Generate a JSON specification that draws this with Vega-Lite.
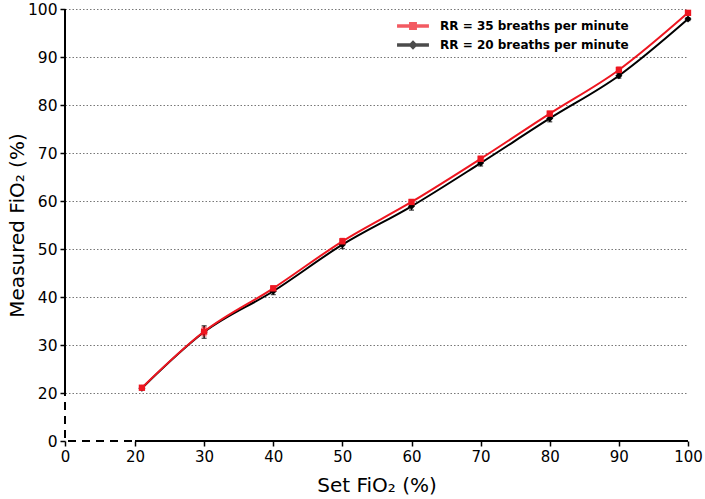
{
  "$schema": "https://vega.github.io/schema/vega-lite/v6.json",
  "width": 623,
  "height": 432,
  "autosize": {"type": "none"},
  "padding": {"left": 65, "top": 9, "right": 17, "bottom": 58},
  "data": {
    "values": [
      {"series": "RR = 20 breaths per minute", "set": 21, "measured": 21.0, "lo": 20.7, "hi": 21.3},
      {"series": "RR = 20 breaths per minute", "set": 30, "measured": 32.7, "lo": 31.4, "hi": 34.0},
      {"series": "RR = 20 breaths per minute", "set": 40, "measured": 41.2, "lo": 40.5, "hi": 41.9},
      {"series": "RR = 20 breaths per minute", "set": 50, "measured": 50.9, "lo": 50.1, "hi": 51.7},
      {"series": "RR = 20 breaths per minute", "set": 60, "measured": 58.9, "lo": 58.1, "hi": 59.7},
      {"series": "RR = 20 breaths per minute", "set": 70, "measured": 67.9, "lo": 67.3, "hi": 68.5},
      {"series": "RR = 20 breaths per minute", "set": 80, "measured": 77.2, "lo": 76.5, "hi": 77.9},
      {"series": "RR = 20 breaths per minute", "set": 90, "measured": 86.1, "lo": 85.6, "hi": 86.6},
      {"series": "RR = 20 breaths per minute", "set": 100, "measured": 97.9, "lo": 97.6, "hi": 98.2},
      {"series": "RR = 35 breaths per minute", "set": 21, "measured": 21.1, "lo": 20.8, "hi": 21.4},
      {"series": "RR = 35 breaths per minute", "set": 30, "measured": 32.8, "lo": 31.9, "hi": 33.7},
      {"series": "RR = 35 breaths per minute", "set": 40, "measured": 41.8, "lo": 41.3, "hi": 42.3},
      {"series": "RR = 35 breaths per minute", "set": 50, "measured": 51.6, "lo": 51.0, "hi": 52.2},
      {"series": "RR = 35 breaths per minute", "set": 60, "measured": 59.8, "lo": 59.3, "hi": 60.3},
      {"series": "RR = 35 breaths per minute", "set": 70, "measured": 68.8, "lo": 68.3, "hi": 69.3},
      {"series": "RR = 35 breaths per minute", "set": 80, "measured": 78.2, "lo": 77.7, "hi": 78.7},
      {"series": "RR = 35 breaths per minute", "set": 90, "measured": 87.3, "lo": 86.7, "hi": 87.9},
      {"series": "RR = 35 breaths per minute", "set": 100, "measured": 99.2, "lo": 98.8, "hi": 99.6}
    ]
  },
  "layer": [
    {
      "mark": {"type": "point", "filled": true, "opacity": 1, "size": 0},
      "encoding": {
        "x": {"field": "set", "type": "quantitative", "title": "Set FiO₂ (%)"},
        "y": {"field": "measured", "type": "quantitative", "title": "Measured FiO₂ (%)"},
        "color": {
          "field": "series",
          "type": "nominal",
          "scale": {
            "domain": ["RR = 35 breaths per minute", "RR = 20 breaths per minute"],
            "range": ["#ee1620", "#000000"]
          },
          "legend": {
            "title": null,
            "orient": "none",
            "legendX": 339,
            "legendY": 8,
            "padding": 0,
            "labelFont": "DejaVu Sans",
            "labelFontWeight": "bold",
            "labelFontSize": 12,
            "labelColor": "black",
            "labelLimit": 400,
            "labelOffset": 18,
            "symbolSize": 256,
            "symbolOpacity": 1,
            "rowPadding": 3
          }
        },
        "shape": {
          "field": "series",
          "type": "nominal",
          "scale": {
            "domain": ["RR = 35 breaths per minute", "RR = 20 breaths per minute"],
            "range": [
              "M-1.9,-0.12H1.9V0.12H-1.9ZM-0.4,-0.4H0.4V0.4H-0.4Z",
              "M-1.9,-0.12H1.9V0.12H-1.9ZM0,-0.45L0.45,0L0,0.45L-0.45,0Z"
            ]
          },
          "legend": {"title": null}
        }
      }
    },
    {
      "mark": {"type": "line", "strokeWidth": 2, "interpolate": "monotone"},
      "encoding": {
        "x": {
          "field": "set",
          "type": "quantitative",
          "title": "Set FiO₂ (%)",
          "scale": {"domain": [0, 20, 100], "range": [0, 70, 623], "nice": false, "zero": false},
          "axis": {
            "values": [0, 20, 30, 40, 50, 60, 70, 80, 90, 100],
            "domain": false,
            "grid": false,
            "tickSize": 5,
            "tickWidth": 1.5,
            "tickColor": "black",
            "labelFontSize": 15,
            "labelColor": "black",
            "labelPadding": 3,
            "labelFlush": false,
            "titleFontSize": 20,
            "titleFontWeight": "normal",
            "titleColor": "black",
            "titlePadding": 11
          }
        },
        "y": {
          "field": "measured",
          "type": "quantitative",
          "title": "Measured FiO₂ (%)",
          "scale": {"domain": [0, 20, 100], "range": [432, 384, 0], "nice": false, "zero": false},
          "axis": {
            "values": [0, 20, 30, 40, 50, 60, 70, 80, 90, 100],
            "domain": false,
            "grid": true,
            "gridDash": [1.5, 2],
            "gridColor": "#777777",
            "gridWidth": 1,
            "gridOpacity": {"condition": {"test": "datum.value === 0", "value": 0}, "value": 1},
            "tickSize": 5,
            "tickWidth": 1.5,
            "tickColor": "black",
            "labelFontSize": 15.5,
            "labelColor": "black",
            "labelPadding": 3,
            "titleFontSize": 20,
            "titleFontWeight": "normal",
            "titleColor": "black",
            "titlePadding": 0
          }
        },
        "color": {"field": "series", "type": "nominal"}
      }
    },
    {
      "mark": {"type": "errorbar", "ticks": {"size": 5}, "thickness": 1.3},
      "encoding": {
        "x": {"field": "set", "type": "quantitative"},
        "y": {"field": "lo", "type": "quantitative", "title": "Measured FiO₂ (%)"},
        "y2": {"field": "hi"},
        "color": {"field": "series", "type": "nominal"}
      }
    },
    {
      "transform": [{"filter": "datum.series === 'RR = 20 breaths per minute'"}],
      "mark": {"type": "point", "shape": "diamond", "filled": true, "opacity": 1, "size": 50, "color": "#000000"},
      "encoding": {
        "x": {"field": "set", "type": "quantitative"},
        "y": {"field": "measured", "type": "quantitative", "title": "Measured FiO₂ (%)"}
      }
    },
    {
      "transform": [{"filter": "datum.series === 'RR = 35 breaths per minute'"}],
      "mark": {"type": "point", "shape": "square", "filled": true, "opacity": 1, "size": 40, "color": "#ee1620"},
      "encoding": {
        "x": {"field": "set", "type": "quantitative"},
        "y": {"field": "measured", "type": "quantitative", "title": "Measured FiO₂ (%)"}
      }
    },
    {
      "data": {"values": [{}]},
      "mark": {"type": "rule", "color": "black", "strokeWidth": 2, "strokeDash": [8, 6], "strokeDashOffset": -3},
      "encoding": {
        "x": {"datum": 0, "type": "quantitative"},
        "x2": {"datum": 20},
        "y": {"datum": 0, "type": "quantitative"}
      }
    },
    {
      "data": {"values": [{}]},
      "mark": {"type": "rule", "color": "black", "strokeWidth": 2},
      "encoding": {
        "x": {"datum": 20, "type": "quantitative"},
        "x2": {"datum": 100},
        "y": {"datum": 0, "type": "quantitative"}
      }
    },
    {
      "data": {"values": [{}]},
      "mark": {"type": "rule", "color": "black", "strokeWidth": 2, "strokeDash": [8, 6], "strokeDashOffset": -3},
      "encoding": {
        "x": {"datum": 0, "type": "quantitative"},
        "y": {"datum": 0, "type": "quantitative"},
        "y2": {"datum": 20}
      }
    },
    {
      "data": {"values": [{}]},
      "mark": {"type": "rule", "color": "black", "strokeWidth": 2},
      "encoding": {
        "x": {"datum": 0, "type": "quantitative"},
        "y": {"datum": 20, "type": "quantitative"},
        "y2": {"datum": 100}
      }
    }
  ],
  "config": {
    "font": "DejaVu Sans",
    "view": {"stroke": null}
  }
}
